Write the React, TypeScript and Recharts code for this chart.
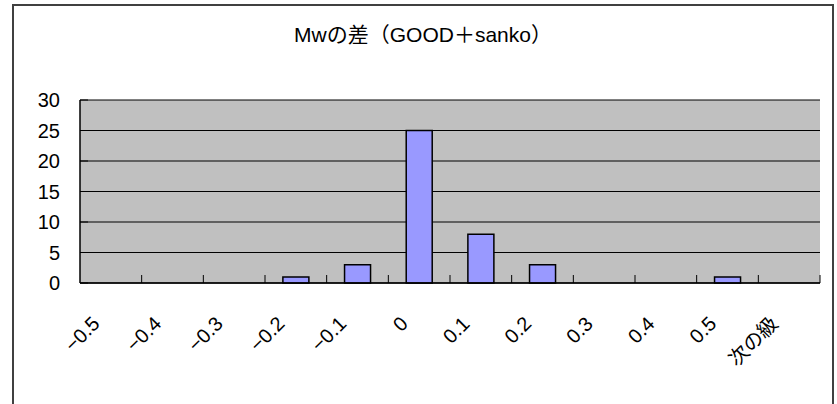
import { Bar, BarChart, CartesianGrid, XAxis, YAxis } from 'recharts';

const categories = ['−0.5', '−0.4', '−0.3', '−0.2', '−0.1', '0', '0.1', '0.2', '0.3', '0.4', '0.5', '次の級'];
const counts = [0, 0, 0, 1, 3, 25, 8, 3, 0, 0, 1, 0];
const yTicks = [0, 5, 10, 15, 20, 25, 30];

const data = categories.map((name, i) => ({ name, value: counts[i] }));

const FONT = '"Liberation Sans", Arial, "Noto Sans CJK JP", sans-serif';

function XTick(props: any) {
  const { x, y, payload, width, visibleTicksCount } = props;
  const half = payload?.offset ?? width / visibleTicksCount / 2;
  const bx = x + half;
  const tx = x - 10;
  const ty = y + 42;
  return (
    <g>
      <line x1={bx} y1={y} x2={bx} y2={y - 8} stroke="#000" strokeWidth={1} />
      <text x={tx} y={ty} textAnchor="end" fontSize={20} fontFamily={FONT} fill="#000" transform={`rotate(-45, ${tx}, ${ty})`}>
        {payload.value}
      </text>
    </g>
  );
}

export default function App() {
  return (
    <div style={{ position: 'absolute', left: 0, top: 0, width: 837, height: 404, overflow: 'hidden', background: '#fff' }}>
      <div style={{ position: 'absolute', left: 12, top: 4, width: 822, height: 430, border: '2px solid #404040', boxSizing: 'border-box' }} />
      <div style={{ position: 'absolute', left: 12, top: 21, width: 822, textAlign: 'center', fontFamily: FONT, fontSize: 21, lineHeight: '28px', color: '#000' }}>
        Mwの差（GOOD＋sanko）
      </div>
      <div style={{ position: 'absolute', left: 0, top: 0 }}>
        <BarChart width={837} height={404} data={data} margin={{ top: 100, right: 17, bottom: 0, left: 0 }} barCategoryGap="29%">
          <CartesianGrid vertical={false} fill="#C0C0C0" stroke="#000" strokeWidth={1} fillOpacity={1} />
          <XAxis dataKey="name" height={121} axisLine={{ stroke: '#000', strokeWidth: 1.5 }} tickLine={false} tickSize={0} tickMargin={0} interval={0} tick={<XTick />} />
          <XAxis xAxisId="top" dataKey="name" orientation="top" height={0} tick={false} tickLine={false} axisLine={{ stroke: '#808080', strokeWidth: 1.5 }} />
          <YAxis domain={[0, 30]} ticks={yTicks} width={80} axisLine={{ stroke: '#000', strokeWidth: 1.5 }} tickLine={{ stroke: '#000' }} tickSize={-8} tickMargin={28} tick={{ fontSize: 20, fontFamily: FONT, fill: '#000' }} />
          <YAxis yAxisId="right" orientation="right" domain={[0, 30]} width={0} tick={false} tickLine={false} axisLine={{ stroke: '#808080', strokeWidth: 1.5 }} />
          <Bar dataKey="value" fill="#9999FF" stroke="#000" strokeWidth={1.5} isAnimationActive={false} />
        </BarChart>
      </div>
    </div>
  );
}
